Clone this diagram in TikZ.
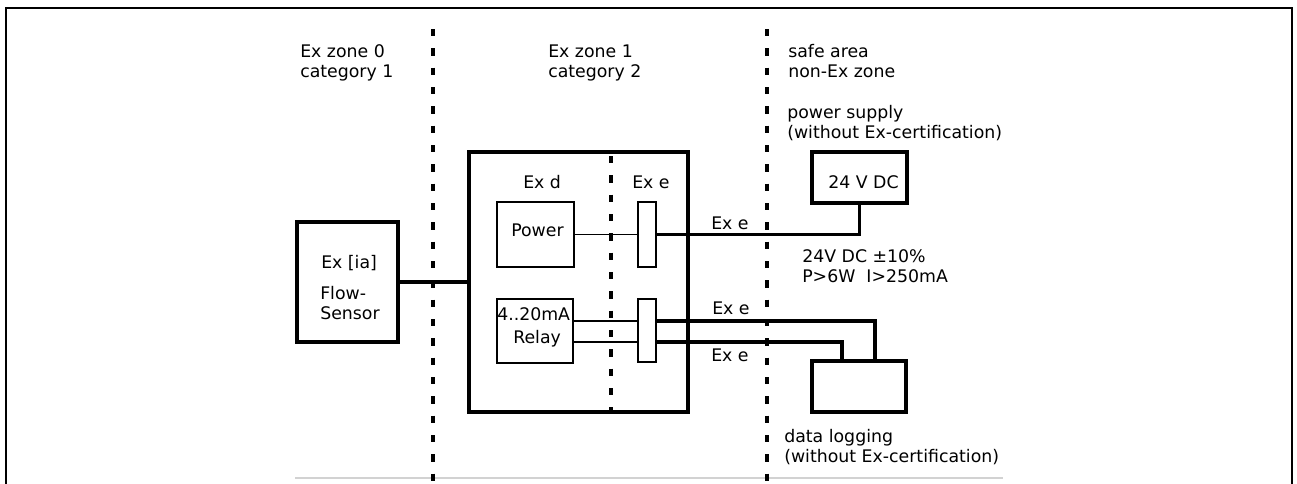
\documentclass[tikz,border=0pt]{standalone}
\usepackage{fontspec}
\setmainfont{DejaVu Sans}
\begin{document}
\begin{tikzpicture}[x=0.75pt,y=-0.75pt,
  every node/.style={font=\fontsize{13pt}{15pt}\selectfont},
  thickbox/.style={draw, line width=2.6pt, rectangle, inner sep=0pt},
  thinbox/.style={draw, line width=1.4pt, rectangle, inner sep=0pt},
  zoneline/.style={line width=3pt, dash pattern=on 5.5pt off 9pt},
  thickwire/.style={line width=2.5pt},
  thinwire/.style={line width=1.4pt},
  lbl/.style={inner sep=0pt, anchor=base west}]
\useasboundingbox (0,0) rectangle (1297,483);
% frame
\draw[line width=1.5pt] (5.5,490) -- (5.5,8) -- (1292,8) -- (1292,490);
\draw[gray!35, line width=1pt] (295,478) -- (1003,478);
% zone borders
\draw[zoneline] (433,29) -- (433,490);
\draw[zoneline] (767,29) -- (767,490);
% zone labels
\node[lbl] (z0a) at (300,57) {Ex zone 0};
\node[lbl] (z0b) at (300,77) {category 1};
\node[lbl] (z1a) at (548,57) {Ex zone 1};
\node[lbl] (z1b) at (548,77) {category 2};
\node[lbl] (sa) at (788,57) {safe area};
\node[lbl] (sb) at (788,77) {non-Ex zone};
\node[lbl] (pa) at (787,118) {power supply};
\node[lbl] (pb) at (787,138) {(without Ex-certification)};
% sensor
\node[thickbox, minimum width=75.75pt, minimum height=90pt] (sensor) at (347.5,282) {};
\node[lbl] (s1) at (321,268) {Ex [ia]};
\node[lbl] (s2) at (320,299) {Flow-};
\node[lbl] (s3) at (320,319) {Sensor};
% big box
\node[thickbox, minimum width=164.25pt, minimum height=195pt] (big) at (578.5,282) {};
\draw[zoneline] (611,156) -- (611,410);
\node[lbl] (exd) at (523,188) {Ex d};
\node[lbl] (exe) at (632,188) {Ex e};
\node[thinbox, minimum width=57.75pt, minimum height=48.75pt] (power) at (535.5,234.5) {};
\node[lbl] (ptxt) at (511,236) {Power};
\node[thinbox, minimum width=13.5pt, minimum height=48.75pt] (term1) at (647,234.5) {};
\node[thinbox, minimum width=57pt, minimum height=48pt] (relay) at (535,331) {};
\node[lbl] (r1) at (497,320) {4..20mA};
\node[lbl] (r2) at (513,343) {Relay};
\node[thinbox, minimum width=13.5pt, minimum height=47.25pt] (term2) at (647,330.5) {};
% outside devices
\node[thickbox, minimum width=71.25pt, minimum height=38.25pt] (ps) at (859.5,177.5) {};
\node[lbl] (pstxt) at (828,188) {24 V DC};
\node[thickbox, minimum width=70.5pt, minimum height=38.25pt] (log) at (859,386.5) {};
\node[lbl] (d1) at (784,442) {data logging};
\node[lbl] (d2) at (784,462) {(without Ex-certification)};
% specs
\node[lbl] (sp1) at (802,262) {24V DC ±10\%};
\node[lbl] (sp2) at (802,282) {P>6W\ \ I>250mA};
% wire labels
\node[lbl] (e1) at (711,229) {Ex e};
\node[lbl] (e2) at (712,314) {Ex e};
\node[lbl] (e3) at (711,361) {Ex e};
% helper coordinates
\coordinate (w1) at (0,321);
\coordinate (w2) at (0,342);
\coordinate (c1) at (875,0);
\coordinate (c2) at (842,0);
% wires
\draw[thickwire] (sensor.east) -- (big.west);
\draw[thinwire] (power.east) -- (term1.west);
\draw[thickwire] (term1.east) -| (ps.south);
\draw[thinwire] (relay.east |- w1) -- (term2.west |- w1);
\draw[thinwire] (relay.east |- w2) -- (term2.west |- w2);
\draw[thickwire] (term2.east |- w1) -| (c1 |- log.north);
\draw[thickwire] (term2.east |- w2) -| (c2 |- log.north);
\end{tikzpicture}
\end{document}
